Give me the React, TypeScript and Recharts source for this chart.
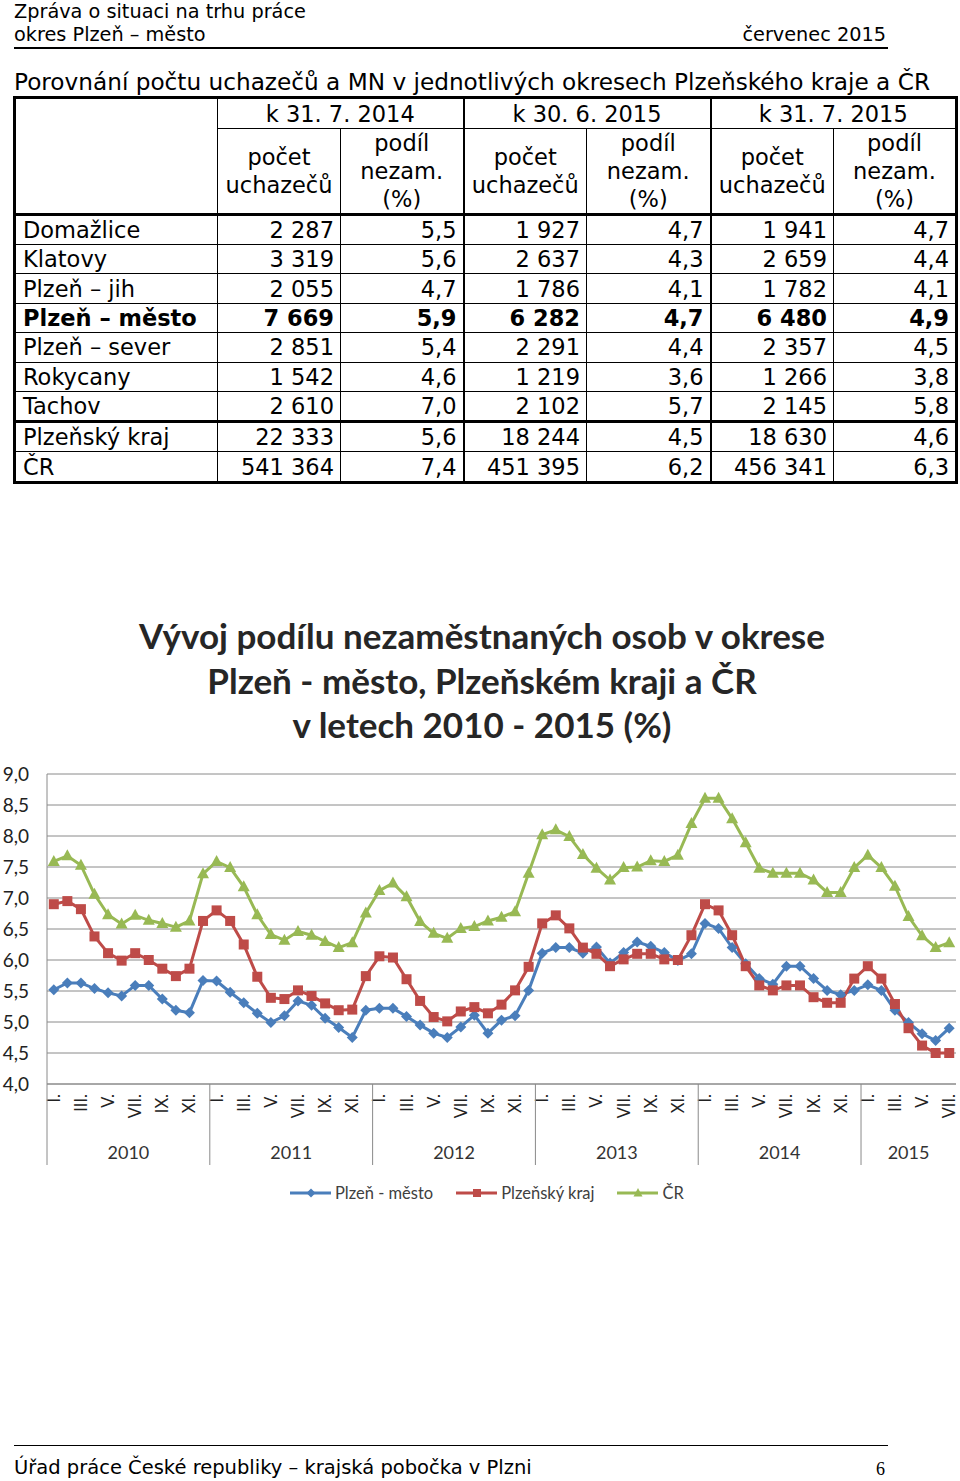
import React from "react";
import { CartesianGrid, Line, LineChart, XAxis, YAxis } from "recharts";

// monthly share of unemployed persons (%), I/2010 .. VII/2015
const years = [2010, 2011, 2012, 2013, 2014, 2015];
const monthLabels = ["I.", "II.", "III.", "IV.", "V.", "VI.", "VII.", "VIII.", "IX.", "X.", "XI.", "XII."];

const plzenMesto = [
  5.52, 5.63, 5.63, 5.54, 5.47, 5.42, 5.59, 5.59, 5.37, 5.19, 5.15, 5.67,
  5.66, 5.48, 5.31, 5.14, 4.99, 5.1, 5.34, 5.27, 5.06, 4.91, 4.75, 5.19,
  5.22, 5.22, 5.09, 4.95, 4.82, 4.75, 4.92, 5.11, 4.82, 5.03, 5.1, 5.51,
  6.11, 6.2, 6.2, 6.11, 6.21, 5.95, 6.12, 6.29, 6.22, 6.12, 5.99, 6.1,
  6.59, 6.51, 6.2, 5.94, 5.7, 5.61, 5.9, 5.9, 5.7, 5.51, 5.44, 5.51,
  5.6, 5.51, 5.19, 4.99, 4.81, 4.7, 4.9,
];

const plzenskyKraj = [
  6.9, 6.95, 6.82, 6.38, 6.11, 5.99, 6.11, 6.0, 5.86, 5.74, 5.86, 6.63,
  6.8, 6.63, 6.25, 5.73, 5.39, 5.37, 5.51, 5.42, 5.3, 5.19, 5.2, 5.74,
  6.06, 6.04, 5.69, 5.34, 5.08, 5.01, 5.17, 5.24, 5.14, 5.28, 5.51, 5.89,
  6.59, 6.72, 6.51, 6.2, 6.1, 5.9, 6.01, 6.1, 6.1, 6.01, 6.0, 6.4,
  6.9, 6.8, 6.4, 5.9, 5.59, 5.51, 5.59, 5.59, 5.4, 5.31, 5.31, 5.7,
  5.9, 5.7, 5.29, 4.9, 4.62, 4.5, 4.5,
];

const cr = [
  7.59, 7.68, 7.53, 7.06, 6.73, 6.58, 6.72, 6.64, 6.59, 6.53, 6.63, 7.39,
  7.59, 7.49, 7.18, 6.73, 6.41, 6.32, 6.46, 6.4, 6.3, 6.2, 6.28, 6.76,
  7.12, 7.24, 7.02, 6.62, 6.43, 6.35, 6.51, 6.54, 6.63, 6.69, 6.78, 7.4,
  8.02, 8.1, 7.99, 7.7, 7.48, 7.29, 7.49, 7.5, 7.6, 7.59, 7.69, 8.2,
  8.61, 8.61, 8.28, 7.89, 7.48, 7.4, 7.4, 7.4, 7.29, 7.09, 7.09, 7.49,
  7.69, 7.49, 7.19, 6.7, 6.39, 6.2, 6.28,
];

const yTicks = [4, 4.5, 5, 5.5, 6, 6.5, 7, 7.5, 8, 8.5, 9];

// table data
const districts = ["Domažlice", "Klatovy", "Plzeň – jih", "Plzeň – město", "Plzeň – sever", "Rokycany", "Tachov", "Plzeňský kraj", "ČR"];
const tableDates = ["k 31. 7. 2014", "k 30. 6. 2015", "k 31. 7. 2015"];
const uchazeci2014 = ["2 287", "3 319", "2 055", "7 669", "2 851", "1 542", "2 610", "22 333", "541 364"];
const podil2014 = ["5,5", "5,6", "4,7", "5,9", "5,4", "4,6", "7,0", "5,6", "7,4"];
const uchazeciJun15 = ["1 927", "2 637", "1 786", "6 282", "2 291", "1 219", "2 102", "18 244", "451 395"];
const podilJun15 = ["4,7", "4,3", "4,1", "4,7", "4,4", "3,6", "5,7", "4,5", "6,2"];
const uchazeciJul15 = ["1 941", "2 659", "1 782", "6 480", "2 357", "1 266", "2 145", "18 630", "456 341"];
const podilJul15 = ["4,7", "4,4", "4,1", "4,9", "4,5", "3,8", "5,8", "4,6", "6,3"];

const N = plzenMesto.length;
const data = plzenMesto.map((v, i) => ({
  idx: i,
  mesto: v,
  kraj: plzenskyKraj[i],
  cr: cr[i],
}));

const BLUE = "#4A7EBB";
const RED = "#BE4B48";
const GREEN = "#98B954";
const GRID = "#8a8a8a";
const CHART_FONT = "Lato, 'Open Sans', sans-serif";
const DOC_FONT = "'DejaVu Sans', Verdana, sans-serif";

const CHART_W = 960;
const Y_AXIS_W = 47;
const RIGHT_M = 4;
const BAND = (CHART_W - Y_AXIS_W - RIGHT_M) / N;

function MonthTick(props: any) {
  const { x, y, payload } = props;
  const i = payload.value as number;
  const m = i % 12;
  const parts: React.ReactNode[] = [];
  if (m % 2 === 0) {
    parts.push(
      <text
        key="m"
        x={x}
        y={y + 10}
        transform={`rotate(-90 ${x} ${y + 10})`}
        textAnchor="end"
        dominantBaseline="central"
        fontSize={16.5}
        fontFamily={CHART_FONT}
        fill="#222"
      >
        {monthLabels[m]}
      </text>
    );
  }
  if (m === 0) {
    const left = x - BAND / 2;
    const count = Math.min(12, N - i);
    parts.push(<line key="s" x1={left} x2={left} y1={y} y2={y + 81} stroke={GRID} strokeWidth={1} />);
    parts.push(
      <text
        key="y"
        x={left + (count * BAND) / 2}
        y={y + 75}
        textAnchor="middle"
        fontSize={18}
        fontFamily={CHART_FONT}
        fill="#333"
      >
        {years[Math.floor(i / 12)]}
      </text>
    );
  }
  return <g>{parts}</g>;
}

function Diamond(props: any) {
  const { cx, cy, index } = props;
  const r = 5.5;
  return <polygon key={`d${index}`} points={`${cx},${cy - r} ${cx + r},${cy} ${cx},${cy + r} ${cx - r},${cy}`} fill={BLUE} />;
}

function Square(props: any) {
  const { cx, cy, index } = props;
  return <rect key={`s${index}`} x={cx - 5} y={cy - 5} width={10} height={10} fill={RED} />;
}

function Triangle(props: any) {
  const { cx, cy, index } = props;
  return <polygon key={`t${index}`} points={`${cx},${cy - 6.5} ${cx + 6},${cy + 4.5} ${cx - 6},${cy + 4.5}`} fill={GREEN} />;
}

function LegendItem({ color, label, marker }: { color: string; label: string; marker: string }) {
  return (
    <div style={{ display: "flex", alignItems: "center", marginRight: 23 }}>
      <svg width={41} height={14} style={{ marginRight: 4 }}>
        <line x1={0} x2={41} y1={7} y2={7} stroke={color} strokeWidth={3} />
        {marker === "d" && <polygon points="21,2.5 25.5,7 21,11.5 16.5,7" fill={color} />}
        {marker === "s" && <rect x={17} y={3} width={8} height={8} fill={color} />}
        {marker === "t" && <polygon points="21,2 25.5,10.5 16.5,10.5" fill={color} />}
      </svg>
      <span>{label}</span>
    </div>
  );
}

const thin = "1px solid #000";
const mid = "2px solid #000";
const thick = "3px solid #000";

function cell(extra: React.CSSProperties = {}): React.CSSProperties {
  return { border: thin, padding: "0 6px", ...extra };
}

export default function App() {
  const groups = [
    [uchazeci2014, podil2014],
    [uchazeciJun15, podilJun15],
    [uchazeciJul15, podilJul15],
  ];
  return (
    <div style={{ position: "absolute", left: 0, top: 0, width: 960, height: 1481, background: "#fff", fontFamily: DOC_FONT, color: "#000" }}>
      {/* page header */}
      <div style={{ position: "absolute", left: 14, top: 0, fontSize: 19.3, lineHeight: "23px" }}>
        <div>Zpráva o situaci na trhu práce</div>
        <div>okres Plzeň – město</div>
      </div>
      <div style={{ position: "absolute", right: 74, top: 23, fontSize: 19.3, lineHeight: "23px" }}>červenec 2015</div>
      <div style={{ position: "absolute", left: 14, top: 47, width: 874, height: 2, background: "#000" }} />

      {/* table */}
      <div style={{ position: "absolute", left: 14, top: 68, fontSize: 23.2, lineHeight: "28px", whiteSpace: "nowrap" }}>
        Porovnání počtu uchazečů a MN v jednotlivých okresech Plzeňského kraje a ČR
      </div>
      <table
        style={{
          position: "absolute",
          left: 13,
          top: 96,
          width: 945,
          borderCollapse: "collapse",
          border: thick,
          fontSize: 22.5,
          lineHeight: "28px",
          tableLayout: "fixed",
        }}
      >
        <colgroup>
          <col style={{ width: 203 }} />
          <col style={{ width: 123 }} />
          <col style={{ width: 123 }} />
          <col style={{ width: 123 }} />
          <col style={{ width: 124 }} />
          <col style={{ width: 123 }} />
          <col style={{ width: 123 }} />
        </colgroup>
        <tbody>
          <tr style={{ height: 31 }}>
            <td rowSpan={2} style={cell({ borderBottom: thick })} />
            {tableDates.map((d, g) => (
              <td key={d} colSpan={2} style={cell({ textAlign: "center", borderLeft: g > 0 ? mid : thin, padding: 0 })}>
                {d}
              </td>
            ))}
          </tr>
          <tr style={{ height: 85 }}>
            {tableDates.map((d, g) => (
              <React.Fragment key={d}>
                <td style={cell({ textAlign: "center", borderBottom: thick, borderLeft: g > 0 ? mid : thin, padding: 0 })}>
                  počet
                  <br />
                  uchazečů
                </td>
                <td style={cell({ textAlign: "center", borderBottom: thick, padding: 0 })}>
                  podíl
                  <br />
                  nezam.
                  <br />
                  (%)
                </td>
              </React.Fragment>
            ))}
          </tr>
          {districts.map((name, r) => {
            const bold = name === "Plzeň – město";
            const top = r === 7 ? thick : thin;
            const h = r >= 7 ? 30.5 : 29.4;
            return (
              <tr key={name} style={{ height: h, fontWeight: bold ? "bold" : "normal" }}>
                <td style={cell({ borderTop: top, paddingLeft: 7 })}>{name}</td>
                {groups.map(([cnt, pct], g) => (
                  <React.Fragment key={g}>
                    <td style={cell({ borderTop: top, textAlign: "right", borderLeft: g > 0 ? mid : thin })}>{cnt[r]}</td>
                    <td style={cell({ borderTop: top, textAlign: "right" })}>{pct[r]}</td>
                  </React.Fragment>
                ))}
              </tr>
            );
          })}
        </tbody>
      </table>

      {/* chart title */}
      <div
        style={{
          position: "absolute",
          left: 0,
          top: 613,
          width: 964,
          textAlign: "center",
          fontFamily: CHART_FONT,
          fontWeight: "bold",
          fontSize: 35,
          lineHeight: "44.5px",
          color: "#262626",
        }}
      >
        <div>Vývoj podílu nezaměstnaných osob v okrese</div>
        <div>Plzeň - město, Plzeňském kraji a ČR</div>
        <div>v letech 2010 - 2015 (%)</div>
      </div>

      <div style={{ position: "absolute", left: 0, top: 760 }}>
        <LineChart width={CHART_W} height={410} data={data} margin={{ top: 14, right: RIGHT_M, bottom: 0, left: 0 }}>
          <CartesianGrid horizontal vertical={false} stroke={GRID} strokeWidth={1} />
          <XAxis
            dataKey="idx"
            type="number"
            domain={[-0.5, N - 0.5]}
            ticks={data.map((d) => d.idx)}
            interval={0}
            height={86}
            tickSize={0}
            tickMargin={0}
            tickLine={false}
            axisLine={{ stroke: GRID }}
            tick={<MonthTick />}
          />
          <YAxis
            domain={[4, 9]}
            ticks={yTicks}
            interval={0}
            width={Y_AXIS_W}
            tickLine={false}
            tickMargin={12}
            axisLine={{ stroke: GRID }}
            tickFormatter={(v: number) => v.toFixed(1).replace(".", ",")}
            tick={{ fontSize: 19, fontFamily: CHART_FONT, fill: "#222" }}
          />
          <YAxis yAxisId="r" orientation="right" domain={[4, 9]} width={0} tick={false} tickLine={false} axisLine={{ stroke: GRID }} />
          <Line dataKey="mesto" stroke={BLUE} strokeWidth={3} dot={Diamond} activeDot={false} isAnimationActive={false} />
          <Line dataKey="kraj" stroke={RED} strokeWidth={3} dot={Square} activeDot={false} isAnimationActive={false} />
          <Line dataKey="cr" stroke={GREEN} strokeWidth={3} dot={Triangle} activeDot={false} isAnimationActive={false} />
        </LineChart>
      </div>

      {/* legend */}
      <div
        style={{
          position: "absolute",
          left: 290,
          top: 1183,
          display: "flex",
          fontFamily: CHART_FONT,
          fontSize: 16.5,
          color: "#404040",
          lineHeight: "20px",
        }}
      >
        <LegendItem color={BLUE} label="Plzeň - město" marker="d" />
        <LegendItem color={RED} label="Plzeňský kraj" marker="s" />
        <LegendItem color={GREEN} label="ČR" marker="t" />
      </div>

      {/* footer */}
      <div style={{ position: "absolute", left: 14, top: 1445, width: 874, height: 1, background: "#000" }} />
      <div style={{ position: "absolute", left: 14, top: 1456, fontSize: 19.5, lineHeight: "24px" }}>
        Úřad práce České republiky – krajská pobočka v Plzni
      </div>
      <div style={{ position: "absolute", left: 876, top: 1457, fontSize: 18, fontFamily: "'Liberation Serif', serif", lineHeight: "24px" }}>6</div>
    </div>
  );
}
